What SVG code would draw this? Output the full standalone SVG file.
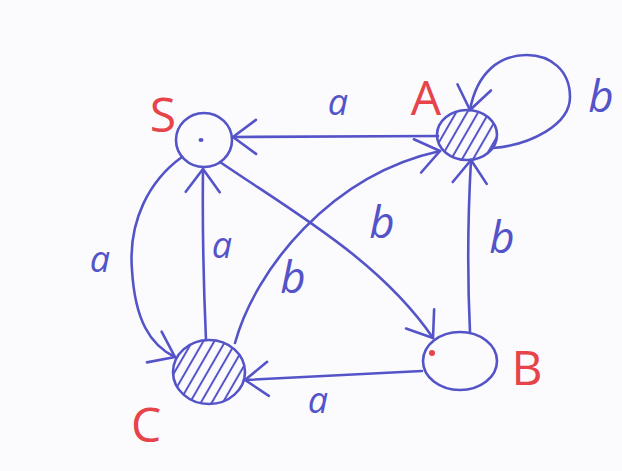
<svg xmlns="http://www.w3.org/2000/svg" width="622" height="471" viewBox="0 0 622 471">
  <style>
    .edge { fill: none; stroke: #5454c8; stroke-width: 2.6; stroke-linecap: round; stroke-linejoin: round; marker-end: url(#arr); }
    .node { fill: none; stroke: #5454c8; stroke-width: 2.6; }
    .hatched { fill: url(#hatch); stroke: #5454c8; stroke-width: 2.6; }
    .lbl { font-family: "Open Sans", "DejaVu Sans", sans-serif; font-style: italic; fill: #5454c8; text-anchor: middle; }
    .la { font-size: 36px; }
    .lb { font-size: 44px; }
    .name { font-family: "Open Sans", "Liberation Sans", sans-serif; fill: #e6434a; font-size: 48px; text-anchor: middle; }
  </style>
  <defs>
    <marker id="arr" markerUnits="userSpaceOnUse" markerWidth="32" markerHeight="40" viewBox="0 0 32 40" refX="30" refY="20" orient="auto" overflow="visible">
      <path d="M7,3 L30,20 L7,37" fill="none" stroke="#5454c8" stroke-width="2.6" stroke-linecap="round" stroke-linejoin="round"/>
    </marker>
    <pattern id="hatch" patternUnits="userSpaceOnUse" width="9.5" height="9.5" patternTransform="rotate(30)">
      <line x1="4.75" y1="0" x2="4.75" y2="9.5" stroke="#5454c8" stroke-width="2"/>
    </pattern>
  </defs>
  <rect width="622" height="471" fill="#fbfbfd"/>

  <g id="connectors">
    <path id="e-A-S" class="edge" d="M438,136 L233,137"/>
    <path id="e-A-A" class="edge" d="M493,148 C530,145 570,125 570,97 C570,70 550,55 527,55 C500,55 477,72 470,110"/>
    <path id="e-S-B" class="edge" d="M220,162 C290,210 380,260 433,338"/>
    <path id="e-C-A" class="edge" d="M235,343 C255,270 330,175 440,151"/>
    <path id="e-B-A" class="edge" d="M470,332 Q466,250 471,160"/>
    <path id="e-C-S" class="edge" d="M206,340 Q202,250 203,169"/>
    <path id="e-S-C" class="edge" d="M182,157 C150,180 128,220 132,270 C135,320 150,345 175,357"/>
    <path id="e-B-C" class="edge" d="M422,371 L245,380"/>
    <text class="lbl la" x="338" y="115">a</text>
    <text class="lbl lb" x="601" y="112">b</text>
    <text class="lbl lb" x="382" y="238">b</text>
    <text class="lbl lb" x="293" y="293">b</text>
    <text class="lbl lb" x="502" y="253">b</text>
    <text class="lbl la" x="222" y="258">a</text>
    <text class="lbl la" x="100" y="272">a</text>
    <text class="lbl la" x="318" y="413">a</text>
  </g>

  <g id="node-S">
    <ellipse class="node" cx="204" cy="140" rx="28" ry="27"/>
    <ellipse cx="201" cy="140" rx="2.5" ry="2" fill="#5454c8"/>
    <text class="name" x="163" y="132">S</text>
  </g>
  <g id="node-A">
    <ellipse class="hatched" cx="467" cy="135" rx="30" ry="25"/>
    <text class="name" x="426" y="115">A</text>
  </g>
  <g id="node-B">
    <ellipse class="node" cx="460" cy="361" rx="37" ry="29"/>
    <circle cx="432" cy="353" r="3" fill="#e6434a"/>
    <text class="name" x="527" y="385">B</text>
  </g>
  <g id="node-C">
    <ellipse class="hatched" cx="209" cy="372" rx="36" ry="32"/>
    <text class="name" x="146" y="442">C</text>
  </g>
</svg>
